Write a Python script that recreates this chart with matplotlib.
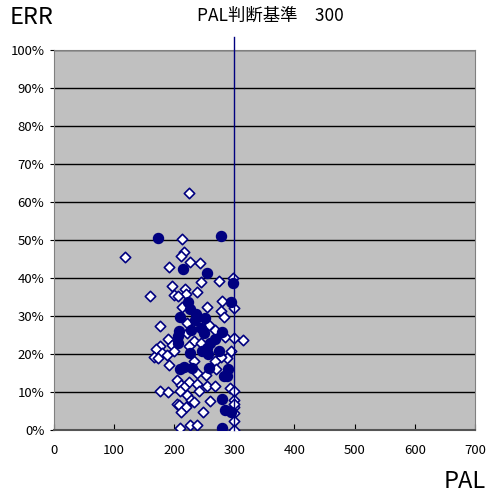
import matplotlib
matplotlib.use("Agg")
import matplotlib.pyplot as plt
from matplotlib.ticker import FuncFormatter

plt.rcParams['font.family'] = ['Noto Sans CJK JP', 'DejaVu Sans']

# filled circles (PAL, ERR %)
circ_pal = [173, 278, 214, 254, 298, 294, 222, 226, 236, 251, 210, 234, 227, 208,
            280, 245, 249, 206, 268, 259, 207, 255, 246, 274, 226, 256, 210, 217,
            230, 258, 289, 287, 282, 280, 285, 294, 280]
circ_err = [50.4, 51.1, 42.5, 41.3, 38.8, 33.7, 33.7, 31.8, 30.5, 29.5, 29.7, 28.9,
            26.3, 26.1, 25.8, 26.8, 25.4, 24.7, 24.0, 22.8, 22.8, 21.5, 20.8, 20.8,
            20.2, 20.0, 16.1, 16.5, 16.4, 16.4, 16.1, 14.3, 14.3, 8.2, 5.3, 4.8, 0.6]

# open diamonds (PAL, ERR %)
dia_pal = [225, 213, 118, 216, 212, 226, 243, 192, 297, 275, 245, 197, 218, 237,
           220, 160, 199, 207, 280, 254, 300, 213, 278, 283, 221, 258, 176, 267,
           221, 284, 299, 315, 189, 233, 244, 177, 224, 196, 169, 295, 199, 179,
           188, 167, 173, 288, 278, 268, 232, 192, 270, 238, 253, 205, 225, 211,
           237, 254, 267, 216, 293, 176, 190, 210, 241, 300, 221, 300, 227, 232,
           259, 205, 208, 219, 300, 211, 247, 300, 300, 226, 238, 210, 300, 300]
dia_err = [62.3, 50.3, 45.5, 46.8, 45.9, 44.3, 43.9, 43.0, 40.1, 39.2, 38.9, 37.9,
           37.1, 36.3, 35.9, 35.2, 35.4, 35.2, 33.9, 32.4, 32.0, 32.5, 31.3, 29.7,
           28.2, 27.7, 27.3, 26.4, 25.4, 24.6, 24.1, 23.8, 23.9, 23.5, 22.8, 22.0,
           22.0, 22.5, 21.3, 20.9, 20.8, 20.2, 19.7, 19.3, 18.9, 18.9, 19.3, 18.2,
           18.2, 17.1, 16.1, 14.9, 14.5, 13.1, 12.7, 11.8, 12.1, 11.7, 11.7, 11.4,
           11.1, 10.2, 10.1, 10.2, 10.2, 10.2, 9.2, 8.0, 7.9, 7.3, 7.7, 6.8, 6.5,
           6.1, 6.1, 4.7, 4.8, 4.6, 2.4, 1.4, 1.3, 0.4, 0.0, 6.8]

threshold = 300
x_ticks = [0, 100, 200, 300, 400, 500, 600, 700]
y_ticks = [0, 10, 20, 30, 40, 50, 60, 70, 80, 90, 100]

navy = '#000080'

fig = plt.figure(figsize=(4.87, 5.0), dpi=100)
ax = fig.add_axes([0.111, 0.14, 0.864, 0.76])
ax.set_facecolor('#C0C0C0')

ax.set_xlim(0, 700)
ax.set_ylim(0, 100)
ax.set_xticks(x_ticks)
ax.set_yticks(y_ticks)
ax.yaxis.set_major_formatter(FuncFormatter(lambda v, p: f'{v:.0f}%'))
ax.tick_params(axis='x', direction='in', length=4, labelsize=9.5, pad=10, color='black')
ax.tick_params(axis='y', direction='out', length=3, labelsize=9.5, pad=4)
ax.grid(axis='y', color='black', linewidth=1)
ax.set_axisbelow(True)

for s in ['top', 'right']:
    ax.spines[s].set_color('#808080')
ax.spines['left'].set_color('#808080')
ax.spines['bottom'].set_color('#555555')
ax.spines['bottom'].set_linewidth(1.5)

ax.scatter(dia_pal, dia_err, marker='D', s=28, facecolor='white', edgecolor=navy,
           linewidth=1.2, zorder=3)
ax.scatter(circ_pal, circ_err, marker='o', s=52, color=navy, zorder=4)

ax.plot([threshold, threshold], [0, 103.5], color=navy, linewidth=1, clip_on=False, zorder=5)

fig.text(0.02, 0.943, 'ERR', fontsize=17, ha='left', va='bottom')
fig.text(0.997, 0.015, 'PAL', fontsize=17, ha='right', va='bottom')
fig.text(0.555, 0.968, 'PAL判断基準\u3000300', fontsize=12.5, ha='center', va='center')

fig.savefig('out.png', dpi=100)
